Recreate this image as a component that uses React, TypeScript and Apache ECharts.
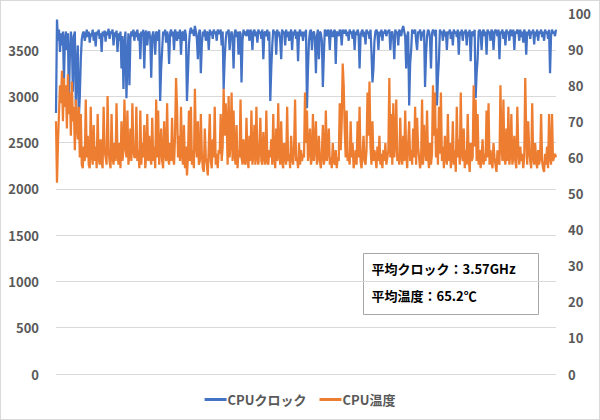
import React, { useEffect, useRef } from "react";
import * as echarts from "echarts";

const clockSeg1 = [2820, 3830, 3600, 3720, 3480, 3680, 3550, 3700, 3150, 3620, 3700, 3500, 3680, 2950, 3450, 3700, 3600, 3050, 3650, 3700, 2900, 3300, 3550, 2750, 3000, 3400, 3620, 3680, 3700, 3600, 3660, 3720, 3640, 3700, 3580, 3680, 3650, 3720, 3600, 3690, 3540, 3700, 3660, 3720, 3620, 3680, 3480, 3700, 3650, 3710, 3590, 3700, 3660, 3730, 3620, 3700, 3680, 3720, 3550, 3690, 3640, 3710, 3480, 3680, 3600, 3700, 3300, 3650, 3080, 3550, 3700, 2980, 3400, 3680, 3120, 3620, 3700, 3650, 3720, 3600];
const clockSeg2 = [3700, 3640, 3720, 3600, 3680, 3400, 3700, 3650, 3720, 3300, 3680, 3710, 3550, 3680, 3700, 3620, 3200, 3650, 3700, 3620, 3450, 3700, 3680, 3600, 3720, 2950, 3300, 3500, 3700, 3660, 3720, 3580, 3700, 3640, 3350, 3680, 3720, 3650, 3700, 3500, 3720, 3680, 3600, 3700, 3620, 3720, 3450, 3680, 3700, 3600, 3720, 3660, 2950, 3250, 3550, 3700, 3740, 3680, 3720, 3650, 3760, 3700, 3620, 3400, 3680, 3720, 3250, 3560, 3700, 3650, 3720, 3600, 3700, 3680, 3500, 3720, 3660, 3700, 3620, 3720, 3680, 3700, 3600, 3720, 3680];
const clockSeg3 = [3680, 3720, 3550, 3700, 3080, 3400, 3600, 3700, 3680, 3720, 3500, 3650, 3700, 3620, 3300, 3680, 3720, 3640, 3700, 3450, 3700, 3680, 3150, 3600, 3720, 3660, 3700, 3650, 3720, 3700, 3600, 3720, 3680, 3500, 3700, 3720, 3650, 3700, 3580, 3720, 3680, 3700, 3620, 3720, 3400, 3680, 3700, 3650, 3720, 3600, 3700, 2950, 3300, 3550, 3720, 3680, 3700, 3450, 3720, 3650, 3700, 3600, 3400, 3720, 3680, 3700, 3550, 3720, 3640, 3700, 3600, 3680, 3720, 3500, 3700, 3660, 3720, 3620, 3700, 3380, 3680, 3720, 3650, 3700, 3600];
const clockSeg4 = [3700, 3650, 3720, 2870, 3300, 3600, 3700, 3720, 3500, 3680, 3700, 3620, 3250, 3650, 3720, 3400, 3700, 3680, 3600, 3100, 3450, 3720, 3700, 3650, 3720, 3700, 3500, 3720, 3680, 3640, 3700, 3720, 3350, 3700, 3680, 3650, 3720, 3700, 3550, 3720, 3700, 3680, 3720, 3650, 3700, 3600, 3720, 3680, 3700, 3620, 3720, 3500, 3700, 3660, 3720, 3680, 3300, 3650, 3700, 3720, 3640, 3700, 3560, 3720, 3680, 3700, 3620, 3720, 3480, 3150, 3300, 3600, 3700, 3720, 3680, 3500, 3700, 3650, 3720, 3600, 3700, 3680, 3720, 3650, 3700];
const clockSeg5 = [3700, 3720, 3500, 3680, 3700, 3620, 3400, 3720, 3680, 3700, 3550, 3720, 3700, 3650, 3720, 3760, 3700, 3640, 3300, 3650, 3700, 2900, 3350, 3500, 3720, 3700, 3680, 3720, 3600, 3500, 3700, 3680, 3720, 3600, 3700, 3650, 3720, 3100, 3450, 3650, 3720, 3700, 3620, 3300, 3680, 3720, 3700, 3650, 3720, 2900, 3200, 3400, 3720, 3680, 3700, 3600, 3720, 3650, 3700, 3500, 3700, 3680, 3720, 3620, 3700, 3550, 3720, 3680, 3700, 3640, 3720, 3450, 3700, 3660, 3720, 3600, 3700, 3680, 3720, 3550, 3700, 3650, 3720, 3380, 3680];
const clockSeg6 = [3700, 3650, 3720, 2980, 3250, 3400, 3700, 3720, 3680, 3500, 3700, 3720, 3650, 3700, 3450, 3720, 3680, 3700, 3600, 3720, 3700, 3500, 3680, 3720, 3700, 3650, 3720, 3400, 3700, 3680, 3720, 3620, 3700, 3550, 3720, 3680, 3700, 3600, 3720, 3700, 3650, 3720, 3500, 3700, 3680, 3720, 3700, 3600, 3720, 3640, 3700, 3580, 3720, 3680, 3450, 3700, 3660, 3720, 3620, 3700, 3680, 3720, 3560, 3700, 3650, 3720, 3600, 3700, 3680, 3720, 3640, 3700, 3600, 3720, 3680, 3700, 3620, 3720, 3250, 3650, 3720, 3680, 3700, 3650, 3720];

const tempSeg1 = [70, 53, 64, 72, 80, 75, 84, 70, 82, 74, 80, 68, 83, 72, 78, 66, 81, 70, 74, 62, 76, 70, 65, 74, 60, 72, 58, 57, 63, 59, 76, 60, 66, 58, 57, 74, 61, 58, 69, 59, 63, 57, 72, 60, 58, 65, 59, 57, 74, 62, 60, 58, 77, 62, 59, 57, 72, 60, 58, 64, 59, 75, 61, 58, 64, 57, 70, 59, 62, 76, 63, 60, 73, 58, 61, 68, 59, 75, 62, 60];
const tempSeg2 = [60, 74, 59, 62, 57, 73, 58, 64, 60, 69, 57, 61, 72, 59, 66, 60, 58, 71, 59, 63, 57, 76, 60, 73, 58, 62, 68, 59, 57, 70, 61, 59, 75, 60, 58, 64, 59, 71, 60, 58, 66, 82, 74, 60, 66, 59, 74, 61, 58, 69, 57, 63, 55, 60, 73, 59, 74, 58, 62, 57, 79, 64, 60, 70, 58, 59, 72, 61, 57, 56, 68, 60, 58, 55, 63, 72, 59, 57, 65, 60, 74, 58, 61, 57, 62];
const tempSeg3 = [61, 72, 59, 63, 79, 66, 75, 70, 58, 77, 60, 64, 78, 59, 73, 61, 58, 69, 57, 62, 60, 76, 60, 58, 65, 59, 58, 71, 60, 57, 66, 59, 73, 58, 61, 69, 58, 74, 60, 58, 63, 71, 59, 58, 67, 60, 58, 73, 59, 58, 62, 60, 65, 58, 72, 60, 57, 68, 59, 75, 61, 58, 70, 59, 57, 64, 60, 58, 74, 59, 61, 57, 66, 60, 58, 63, 76, 59, 60, 57, 64, 58, 62, 59, 61];
const tempSeg4 = [60, 78, 64, 73, 59, 62, 68, 58, 60, 72, 59, 63, 70, 58, 60, 66, 59, 57, 61, 69, 58, 60, 73, 59, 62, 68, 58, 60, 57, 64, 59, 58, 62, 57, 60, 59, 75, 62, 70, 86, 80, 68, 60, 73, 59, 61, 58, 70, 60, 64, 57, 59, 62, 58, 70, 60, 74, 59, 57, 61, 66, 59, 58, 62, 78, 66, 81, 63, 58, 70, 59, 62, 60, 57, 63, 59, 66, 58, 61, 57, 62, 59, 64, 58, 60];
const tempSeg5 = [62, 82, 60, 72, 58, 75, 60, 64, 76, 59, 61, 58, 71, 60, 58, 66, 59, 73, 61, 57, 64, 70, 59, 62, 58, 68, 60, 74, 58, 71, 63, 60, 57, 59, 76, 58, 69, 62, 59, 73, 60, 57, 64, 58, 61, 80, 66, 78, 60, 68, 58, 74, 61, 78, 59, 63, 57, 66, 60, 58, 72, 59, 64, 57, 60, 70, 58, 62, 56, 74, 60, 65, 58, 78, 61, 59, 68, 57, 62, 58, 72, 60, 56, 64, 59];
const tempSeg6 = [60, 80, 63, 76, 59, 72, 58, 62, 57, 60, 65, 58, 61, 59, 73, 60, 75, 58, 62, 59, 57, 64, 60, 58, 56, 62, 59, 58, 80, 63, 59, 76, 60, 58, 68, 59, 74, 58, 61, 72, 58, 60, 66, 59, 57, 74, 62, 58, 63, 59, 61, 57, 60, 82, 66, 58, 70, 62, 59, 57, 75, 60, 58, 64, 59, 57, 62, 58, 60, 72, 59, 57, 56, 61, 58, 63, 57, 72, 60, 58, 72, 59, 60, 61, 60];

const clockValues = [...clockSeg1, ...clockSeg2, ...clockSeg3, ...clockSeg4, ...clockSeg5, ...clockSeg6];
const tempValues = [...tempSeg1, ...tempSeg2, ...tempSeg3, ...tempSeg4, ...tempSeg5, ...tempSeg6];
const pointCount = Math.max(clockValues.length, tempValues.length);
const categories = Array.from({ length: pointCount }, (_, i) => String(i + 1));

const seriesNames = ["CPUクロック", "CPU温度"];
const noteLines = ["平均クロック：3.57GHz", "平均温度：65.2℃"];

const FONT = "'Noto Sans CJK JP', 'Noto Sans', sans-serif";

export default function App() {
  const ref = useRef<HTMLDivElement>(null);
  useEffect(() => {
    document.body.style.margin = "0";
    if (!ref.current) return;
    const chart = echarts.init(ref.current, undefined, { renderer: "svg" });
    chart.setOption({
      animation: false,
      backgroundColor: "#ffffff",
      textStyle: { fontFamily: FONT },
      grid: { left: 55, right: 43, top: 12, bottom: 45 },
      legend: {
        bottom: 8,
        left: "center",
        itemWidth: 22,
        itemHeight: 3,
        itemGap: 13,
        icon: "rect",
        textStyle: { color: "#595959", fontSize: 13, fontWeight: "bold", fontFamily: FONT, padding: [0, 0, 0, -4] },
        data: seriesNames,
      },
      xAxis: {
        type: "category",
        data: categories,
        boundaryGap: false,
        axisLine: { show: false },
        axisTick: { show: false },
        axisLabel: { show: false },
        splitLine: { show: false },
      },
      yAxis: [
        {
          type: "value",
          min: 0,
          max: 3900,
          interval: 500,
          axisLine: { show: false },
          axisTick: { show: false },
          axisLabel: {
            color: "#595959",
            fontSize: 13,
            fontWeight: "bold",
            margin: 17,
            showMaxLabel: false,
            fontFamily: FONT,
            formatter: (v: number) => String(v),
          },
          splitLine: { show: true, showMaxLine: false, lineStyle: { color: "#d9d9d9", width: 1 } },
        },
        {
          type: "value",
          min: 0,
          max: 100,
          interval: 10,
          position: "right",
          axisLine: { show: false },
          axisTick: { show: false },
          axisLabel: { color: "#595959", fontSize: 13, fontWeight: "bold", margin: 12, fontFamily: FONT },
          splitLine: { show: false },
        },
      ],
      series: [
        {
          name: seriesNames[0],
          type: "line",
          yAxisIndex: 0,
          data: clockValues,
          showSymbol: false,
          symbol: "none",
          lineStyle: { color: "#4472C4", width: 2.25 },
          itemStyle: { color: "#4472C4" },
          z: 3,
        },
        {
          name: seriesNames[1],
          type: "line",
          yAxisIndex: 1,
          data: tempValues,
          showSymbol: false,
          symbol: "none",
          lineStyle: { color: "#ED7D31", width: 2.25 },
          itemStyle: { color: "#ED7D31" },
          z: 4,
        },
      ],
      graphic: [
        {
          type: "group",
          left: 362,
          top: 252,
          children: [
            {
              type: "rect",
              shape: { x: 0, y: 0, width: 175, height: 61 },
              style: { fill: "#ffffff", stroke: "#a6a6a6", lineWidth: 1 },
            },
            {
              type: "text",
              x: 8,
              y: 15,
              style: { text: noteLines[0], fill: "#000000", font: `bold 13px ${FONT}`, textVerticalAlign: "middle" },
            },
            {
              type: "text",
              x: 8,
              y: 42,
              style: { text: noteLines[1], fill: "#000000", font: `bold 13px ${FONT}`, textVerticalAlign: "middle" },
            },
          ],
        },
      ],
    });
    return () => chart.dispose();
  }, []);
  return (
    <div
      ref={ref}
      style={{ width: 600, height: 420, boxSizing: "border-box", border: "1px solid #d9d9d9" }}
    />
  );
}
